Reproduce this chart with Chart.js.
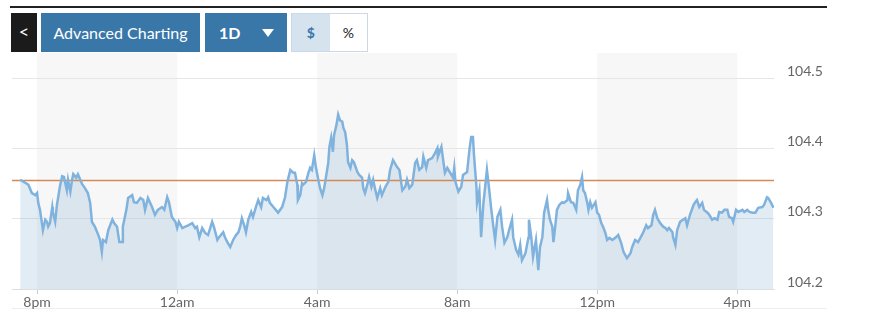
<!DOCTYPE html>
<html>
<head>
<meta charset="utf-8">
<script src="https://cdn.jsdelivr.net/npm/chart.js@4.4.0/dist/chart.umd.min.js"></script>
<style>
    body { margin: 0; width: 870px; height: 330px; background: #fff; font-family: Lato, "Open Sans", sans-serif; position: relative; overflow: hidden; }
    .topline { position: absolute; left: 10px; top: 6px; width: 817px; height: 2px; background: #222; }
    .bottomline { position: absolute; left: 12px; top: 308px; width: 815px; height: 1px; background: #eeeeee; }
    .btn { position: absolute; top: 13px; height: 39px; line-height: 39px; color: #fff; font-size: 16px; box-sizing: border-box; text-align: center; }
    .back { left: 11px; width: 26px; background: #1b1b1b; font-size: 18px; line-height: 37px; }
    .adv { left: 41px; width: 159px; background: #3a77a9; }
    .range { left: 205px; width: 82px; background: #3a77a9; text-align: left; padding-left: 14px; font-weight: bold; }
    .range .arrow { position: absolute; left: 57px; top: 16px; width: 0; height: 0; border-left: 6px solid transparent; border-right: 6px solid transparent; border-top: 8px solid #fff; }
    .toggle { position: absolute; left: 291px; top: 13px; width: 77px; height: 39px; border: 1px solid #c9d9e7; box-sizing: border-box; display: flex; }
    .toggle div { flex: 1; text-align: center; line-height: 37px; font-size: 14px; }
    .toggle .on { background: #d5e3ef; color: #3a77a9; font-weight: bold; }
    .toggle .off { background: #fff; color: #222; }
    #wrap { position: absolute; left: 12px; top: 53px; width: 858px; height: 277px; }
</style>
</head>
<body>
<div class="topline"></div>
<div class="btn back">&lt;</div>
<div class="btn adv">Advanced Charting</div>
<div class="btn range">1D<span class="arrow"></span></div>
<div class="toggle"><div class="on">$</div><div class="off">%</div></div>
<div class="bottomline"></div>
<div id="wrap"><canvas id="chart" width="858" height="277"></canvas></div>
<script>
// minutes from 8pm
const times = [
    -29, -15, -9, -3, 0, 2, 5, 10, 14, 17, 19, 22, 26, 27, 31, 34, 36, 39, 43, 46,
    51, 53, 57, 60, 62, 67, 70, 74, 77, 82, 87, 91, 94, 99, 105, 108, 111, 113, 118, 122,
    129, 132, 137, 141, 146, 147, 153, 156, 163, 166, 171, 177, 182, 185, 190, 197, 202, 207, 214, 218,
    223, 226, 231, 237, 240, 243, 249, 254, 259, 266, 271, 274, 278, 283, 288, 293, 300, 303, 309, 312,
    319, 322, 326, 331, 336, 341, 345, 348, 351, 355, 358, 362, 367, 370, 375, 379, 384, 387, 393, 396,
    399, 405, 413, 420, 425, 429, 434, 439, 442, 446, 447, 451, 454, 456, 461, 465, 468, 471, 475, 478,
    482, 485, 489, 492, 495, 499, 501, 504, 507, 509, 513, 516, 519, 523, 525, 528, 531, 533, 537, 540,
    543, 549, 552, 557, 559, 562, 566, 569, 573, 576, 579, 583, 588, 591, 597, 602, 605, 610, 617, 621,
    626, 631, 634, 638, 643, 648, 651, 655, 660, 662, 667, 670, 677, 682, 686, 687, 693, 696, 699, 703,
    708, 713, 715, 717, 722, 727, 730, 737, 741, 744, 747, 749, 753, 754, 758, 761, 765, 768, 771, 775,
    778, 782, 785, 789, 794, 797, 801, 806, 809, 814, 816, 821, 825, 828, 831, 837, 842, 843, 847, 850,
    855, 859, 862, 866, 869, 874, 876, 879, 883, 885, 888, 891, 895, 900, 903, 909, 910, 915, 919, 924,
    927, 931, 934, 936, 939, 943, 945, 948, 951, 957, 960, 963, 967, 970, 974, 977, 981, 986, 991, 996,
    1001, 1005, 1011, 1017, 1020, 1025, 1030, 1034, 1039, 1044, 1047, 1053, 1056, 1059, 1063, 1068, 1073, 1077, 1080, 1083,
    1089, 1090, 1094, 1097, 1102, 1107, 1111, 1114, 1119, 1125, 1128, 1131, 1135, 1140, 1143, 1149, 1152, 1157, 1161, 1166,
    1169, 1174, 1178, 1183, 1186, 1191, 1193, 1198, 1202, 1209, 1212, 1217, 1221, 1226, 1231, 1236, 1243, 1246, 1251, 1253,
    1258, 1262
];
const prices = [
    104.356, 104.349, 104.337, 104.334, 104.337, 104.323, 104.313, 104.284, 104.299, 104.296, 104.289, 104.294, 104.317, 104.310, 104.296, 104.320, 104.330, 104.346, 104.361, 104.360,
    104.341, 104.356, 104.339, 104.356, 104.364, 104.359, 104.364, 104.356, 104.350, 104.344, 104.337, 104.323, 104.296, 104.289, 104.277, 104.270, 104.253, 104.270, 104.267, 104.284,
    104.299, 104.294, 104.289, 104.267, 104.267, 104.289, 104.313, 104.330, 104.334, 104.324, 104.323, 104.330, 104.327, 104.313, 104.330, 104.317, 104.306, 104.313, 104.317, 104.313,
    104.331, 104.324, 104.303, 104.296, 104.287, 104.296, 104.287, 104.289, 104.291, 104.294, 104.287, 104.289, 104.274, 104.287, 104.280, 104.277, 104.296, 104.289, 104.270, 104.274,
    104.281, 104.274, 104.267, 104.260, 104.270, 104.277, 104.281, 104.289, 104.301, 104.291, 104.281, 104.299, 104.310, 104.303, 104.317, 104.327, 104.317, 104.330, 104.327, 104.331,
    104.323, 104.317, 104.309, 104.317, 104.331, 104.353, 104.370, 104.366, 104.366, 104.349, 104.327, 104.334, 104.351, 104.349, 104.353, 104.366, 104.373, 104.370, 104.391, 104.373,
    104.356, 104.344, 104.334, 104.344, 104.359, 104.380, 104.403, 104.416, 104.396, 104.420, 104.434, 104.449, 104.441, 104.439, 104.430, 104.424, 104.406, 104.381, 104.373, 104.384,
    104.381, 104.367, 104.363, 104.359, 104.344, 104.337, 104.349, 104.360, 104.346, 104.356, 104.344, 104.330, 104.344, 104.334, 104.346, 104.353, 104.370, 104.384, 104.374, 104.370,
    104.341, 104.346, 104.356, 104.344, 104.349, 104.380, 104.384, 104.370, 104.374, 104.389, 104.373, 104.384, 104.387, 104.394, 104.401, 104.389, 104.403, 104.384, 104.366, 104.373,
    104.366, 104.359, 104.373, 104.353, 104.339, 104.346, 104.363, 104.367, 104.399, 104.417, 104.417, 104.389, 104.346, 104.323, 104.341, 104.274, 104.323, 104.346, 104.370, 104.341,
    104.317, 104.289, 104.270, 104.303, 104.313, 104.289, 104.266, 104.274, 104.284, 104.299, 104.274, 104.256, 104.249, 104.263, 104.241, 104.251, 104.273, 104.299, 104.274, 104.246,
    104.270, 104.227, 104.260, 104.274, 104.309, 104.327, 104.313, 104.299, 104.289, 104.267, 104.289, 104.313, 104.320, 104.324, 104.323, 104.327, 104.337, 104.324, 104.323, 104.313,
    104.341, 104.349, 104.360, 104.341, 104.337, 104.323, 104.313, 104.324, 104.316, 104.324, 104.309, 104.306, 104.294, 104.289, 104.280, 104.270, 104.273, 104.270, 104.273, 104.277,
    104.266, 104.253, 104.244, 104.251, 104.260, 104.270, 104.267, 104.273, 104.281, 104.291, 104.287, 104.291, 104.306, 104.313, 104.301, 104.294, 104.289, 104.287, 104.284, 104.287,
    104.281, 104.274, 104.263, 104.284, 104.296, 104.299, 104.301, 104.291, 104.306, 104.320, 104.324, 104.327, 104.317, 104.323, 104.313, 104.309, 104.306, 104.299, 104.301, 104.299,
    104.310, 104.309, 104.313, 104.313, 104.303, 104.301, 104.296, 104.313, 104.310, 104.313, 104.310, 104.313, 104.310, 104.309, 104.309, 104.316, 104.317, 104.320, 104.331, 104.330,
    104.323, 104.316
];
const tickTimes = [0, 240, 480, 720, 960, 1200];
const tickLabels = ['8pm', '12am', '4am', '8am', '12pm', '4pm'];
const yTicks = [104.2, 104.3, 104.4, 104.5];
const shadedBands = [[0, 240], [480, 720], [960, 1200]];
const prevClose = 104.355;

const backdrop = {
    id: 'backdrop',
    beforeDraw(chart) {
        const { ctx, chartArea, scales } = chart;
        ctx.save();
        ctx.fillStyle = '#f7f7f7';
        for (let band of shadedBands) {
            const x1 = scales.x.getPixelForValue(band[0]);
            const x2 = scales.x.getPixelForValue(band[1]);
            ctx.fillRect(x1, chartArea.top, x2 - x1, chartArea.bottom - chartArea.top);
        }
        ctx.restore();
    },
    beforeDatasetsDraw(chart) {
        const { ctx, chartArea, scales } = chart;
        const y = scales.y.getPixelForValue(prevClose);
        ctx.save();
        ctx.strokeStyle = '#d48a57';
        ctx.lineWidth = 1.5;
        ctx.beginPath();
        ctx.moveTo(chartArea.left, y);
        ctx.lineTo(chartArea.right, y);
        ctx.stroke();
        ctx.restore();
    }
};

const font = { family: 'Lato, "Open Sans", sans-serif', size: 14 };

new Chart(document.getElementById('chart'), {
    type: 'line',
    data: {
        datasets: [{
            data: times.map((t, i) => ({ x: t, y: prices[i] })),
            borderColor: '#80b2de',
            borderWidth: 2.5,
            backgroundColor: 'rgba(110, 160, 200, 0.2)',
            fill: 'start',
            pointRadius: 0,
            tension: 0
        }]
    },
    options: {
        responsive: false,
        animation: false,
        devicePixelRatio: 1,
        layout: { padding: 0 },
        plugins: {
            legend: { display: false },
            tooltip: { enabled: false },
            filler: { drawTime: 'beforeDatasetsDraw' }
        },
        scales: {
            x: {
                type: 'linear',
                min: -43,
                max: 1263,
                afterBuildTicks: (axis) => { axis.ticks = tickTimes.map(v => ({ value: v })); },
                afterFit: (axis) => {
                    axis.height = 41;
                    axis.paddingLeft = 0; axis.paddingRight = 0;
                    axis.paddingTop = 0; axis.paddingBottom = 0;
                },
                grid: { drawOnChartArea: false, drawTicks: true, tickLength: 5, color: '#cccccc' },
                border: { display: true, color: '#dddddd' },
                ticks: {
                    color: '#666',
                    font: font,
                    padding: 0,
                    maxRotation: 0,
                    autoSkip: false,
                    callback: (v) => tickLabels[tickTimes.indexOf(v)]
                }
            },
            y: {
                position: 'right',
                min: 104.2,
                max: 104.537,
                afterBuildTicks: (axis) => { axis.ticks = yTicks.map(v => ({ value: v })); },
                afterFit: (axis) => {
                    axis.width = 96;
                    axis.paddingLeft = 0; axis.paddingRight = 0;
                    axis.paddingTop = 0; axis.paddingBottom = 0;
                },
                grid: { color: '#e6e6e6', drawTicks: false },
                border: { display: false },
                ticks: {
                    color: '#666',
                    font: font,
                    padding: 13,
                    labelOffset: -7,
                    callback: (v) => v.toFixed(1)
                }
            }
        }
    },
    plugins: [backdrop]
});
</script>
</body>
</html>
